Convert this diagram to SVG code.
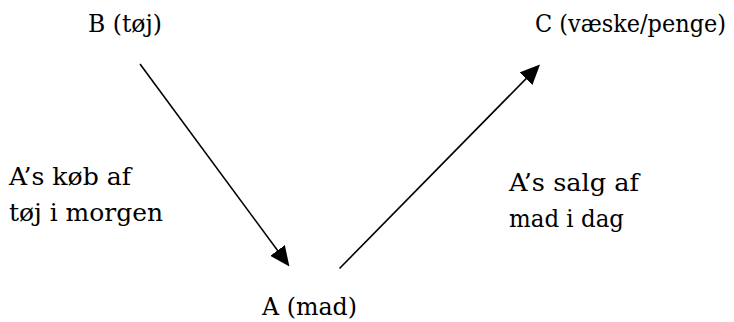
<svg xmlns="http://www.w3.org/2000/svg" width="734" height="322" viewBox="0 0 734 322">
<style>
.t{font-family:'DejaVu Serif',serif;font-size:25px;fill:#000}
.c{stroke:#000;stroke-width:1.6;fill:none}
</style>
<defs>
<marker id="ah" viewBox="0 0 20 18" refX="10" refY="9" markerWidth="20" markerHeight="18" markerUnits="userSpaceOnUse" orient="auto">
<path d="M0,0 L20,9 L0,18 z" fill="#000"/>
</marker>
</defs>
<rect width="734" height="322" fill="#fff"/>
<g id="connectors">
<line class="c" x1="140" y1="64" x2="283.5" y2="258.5" marker-end="url(#ah)"/>
<line class="c" x1="339.5" y1="268.5" x2="533" y2="71.6" marker-end="url(#ah)"/>
</g>
<g id="nodeB"><text class="t" x="88" y="32" textLength="74" lengthAdjust="spacingAndGlyphs">B (tøj)</text></g>
<g id="nodeC"><text class="t" x="535" y="32" style="font-size:24px" textLength="191" lengthAdjust="spacingAndGlyphs">C (væske/penge)</text></g>
<g id="nodeA"><text class="t" x="262" y="315" textLength="95" lengthAdjust="spacingAndGlyphs">A (mad)</text></g>
<g id="labelBuy"><text class="t" x="9" y="185" textLength="122" lengthAdjust="spacingAndGlyphs">A’s køb af</text><text class="t" x="9" y="221" textLength="154" lengthAdjust="spacingAndGlyphs">tøj i morgen</text></g>
<g id="labelSell"><text class="t" x="509" y="191" textLength="130" lengthAdjust="spacingAndGlyphs">A’s salg af</text><text class="t" x="509" y="227" textLength="115" lengthAdjust="spacingAndGlyphs">mad i dag</text></g>
</svg>
